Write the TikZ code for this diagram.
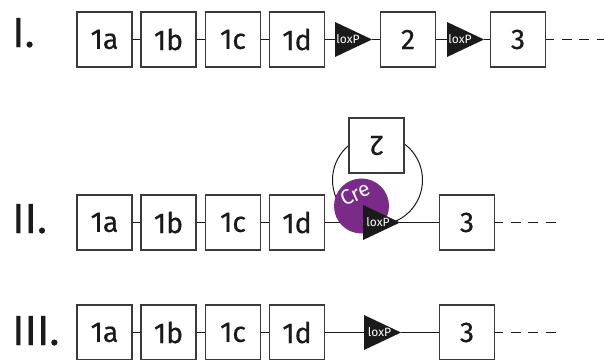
\documentclass[tikz,border=0pt]{standalone}
\usepackage{fontspec}
\setmainfont{Fira Sans}
\newfontfamily\labelfont{Fira Sans}[FakeBold=0.4]
\definecolor{ink}{RGB}{26,26,26}
\definecolor{boxgray}{RGB}{58,58,58}
\definecolor{crepurple}{RGB}{122,42,135}
\tikzset{
  exon/.style={draw=boxgray, line width=1.3pt, fill=white, minimum width=55pt,
    minimum height=55pt, inner sep=0pt, text=ink, font=\labelfont\fontsize{28.5}{28.5}\selectfont},
  rowlabel/.style={anchor=base west, inner sep=0pt, text=ink, font=\labelfont\fontsize{42}{42}\selectfont},
  link/.style={draw=ink, line width=1.3pt},
  tail/.style={link, dash pattern=on 10pt off 7.5pt, dash phase=2pt},
  loxlabel/.style={inner sep=0pt, text=white, font=\fontsize{12}{12}\selectfont},
  loxp/.pic={
    \fill[ink] (0,-17.5) -- (37,0) -- (0,17.5) -- cycle;
    \node[loxlabel] (-txt) at (\pgfkeysvalueof{/tikz/loxoffset},0) {loxP};
    \coordinate (-in) at (0,0);
    \coordinate (-out) at (37,0);
  },
  loxoffset/.initial=13,
}
\begin{document}
\begin{tikzpicture}[x=1pt, y=-1pt]
\useasboundingbox (0,0) rectangle (604,359);

% ---- row I: intact locus ----
\node[rowlabel] (rI) at (12,47) {I.};
\node[exon] (Ia) at (104.5,39.5) {1a};
\node[exon] (Ib) at (168.5,39.5) {1b};
\node[exon] (Ic) at (233,39.5) {1c};
\node[exon] (Id) at (297,39.5) {1d};
\pic[loxoffset=13] (IloxA) at (335,39.5) {loxp};
\node[exon] (I2) at (408,39.5) {2};
\pic[loxoffset=13] (IloxB) at (447,39.5) {loxp};
\node[exon] (I3) at (518,39.5) {3};
\coordinate (Iend) at (604,39.5);
\draw[link] (Ia) -- (Ib);
\draw[link] (Ib) -- (Ic);
\draw[link] (Ic) -- (Id);
\draw[link] (Id.east) -- (IloxA-in);
\draw[link] (IloxA-out) -- (I2.west);
\draw[link] (I2.east) -- (IloxB-in);
\draw[link] (IloxB-out) -- (I3.west);
\draw[tail] (I3.east) -- (Iend);

% ---- row II: Cre recombination, exon 2 looped out ----
\node[rowlabel] (rII) at (12,233) {II.};
\node[exon] (IIa) at (104.5,222.5) {1a};
\node[exon] (IIb) at (168.5,222.5) {1b};
\node[exon] (IIc) at (233,222.5) {1c};
\node[exon] (IId) at (297,222.5) {1d};
\node[exon] (II3) at (467,222.5) {3};
\coordinate (IIend) at (558,222.5);
\draw[link] (IIa) -- (IIb);
\draw[link] (IIb) -- (IIc);
\draw[link] (IIc) -- (IId);
\draw[link] (IId.east) -- (II3.west);
\draw[tail] (II3.east) -- (IIend);
\node[circle, draw=ink, line width=1pt, minimum size=90pt, inner sep=0pt] (loop) at (377.5,180) {};
\node[exon, rotate=180] (II2) at (376.5,145.5) {2};
\node[circle, fill=crepurple, minimum size=55pt, inner sep=0pt] (cre) at (361.5,206) {};
\node[text=white, inner sep=0pt, rotate=25, font=\fontsize{21}{21}\selectfont] (cretxt) at (355,194) {Cre};
\pic[loxoffset=15] (IIlox) at (363,222.5) {loxp};

% ---- row III: recombined locus ----
\node[rowlabel] (rIII) at (12,345) {III.};
\node[exon] (IIIa) at (104.5,332.5) {1a};
\node[exon] (IIIb) at (168.5,332.5) {1b};
\node[exon] (IIIc) at (233,332.5) {1c};
\node[exon] (IIId) at (297,332.5) {1d};
\pic[loxoffset=15.5] (IIIlox) at (364,332.5) {loxp};
\node[exon] (III3) at (467,332.5) {3};
\coordinate (IIIend) at (558,332.5);
\draw[link] (IIIa) -- (IIIb);
\draw[link] (IIIb) -- (IIIc);
\draw[link] (IIIc) -- (IIId);
\draw[link] (IIId.east) -- (IIIlox-in);
\draw[link] (IIIlox-out) -- (III3.west);
\draw[tail] (III3.east) -- (IIIend);
\end{tikzpicture}
\end{document}
